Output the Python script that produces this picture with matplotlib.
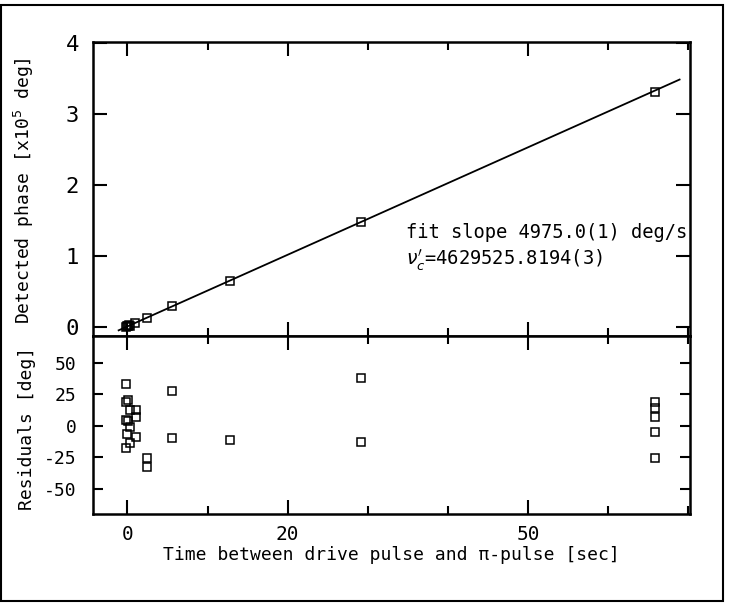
import matplotlib
matplotlib.use("Agg")
import matplotlib.pyplot as plt
from matplotlib.patches import Rectangle

# ---- data ----
phase_x = [-0.2, 0.0, 0.1, 0.3, 0.2, 1.0, 2.4, 5.6, 12.8, 29.1, 65.8]
phase_y = [0.0, 0.005, 0.01, 0.015, 0.02, 0.05, 0.13, 0.29, 0.65, 1.48, 3.32]   # x1e5 deg

fit_x = [-1.1, 68.9]
fit_y = [-0.05, 3.49]

res_x = [-0.2, 0.1, -0.2, 0.3, 1.1, 1.1, -0.2, 0.1, 0.3, 0.0, 1.1, 0.3, -0.2,
         2.4, 2.4, 5.6, 5.6, 12.8, 29.1, 29.1, 65.8, 65.8, 65.8, 65.8, 65.8]
res_y = [33, 20.5, 18.4, 12.6, 12, 6.8, 4.7, 3.4, -1, -6.3, -9, -13.7, -17.6,
         -25.5, -32.9, 27.4, -10, -11.6, 37.4, -13.2, 18.4, 14, 6.8, -5.3, -25.5]

x_major = [0, 20, 50]
x_minor = [10, 30, 40, 60, 70]
top_yticks = [0, 1, 2, 3, 4]
bot_yticks = [-50, -25, 0, 25, 50]

xlabel = "Time between drive pulse and \u03c0-pulse [sec]"
ylabel_top = "Detected phase [x10$^5$ deg]"
ylabel_bot = "Residuals [deg]"
note1 = "fit slope 4975.0(1) deg/s"
note2 = "$\\nu_c'$=4629525.8194(3)"

FONT = "DejaVu Sans Mono"
plt.rcParams['font.family'] = [FONT]
plt.rcParams['mathtext.fontset'] = 'dejavusans'

fig = plt.figure(figsize=(7.32, 6.09), dpi=100)
L, R = 93/732, 690/732
ax1 = fig.add_axes([L, 1-336/609, R-L, (336-42)/609])
ax2 = fig.add_axes([L, 1-514/609, R-L, (514-336)/609], sharex=ax1)

mk = dict(marker='s', ms=6, mfc='none', mec='black', mew=1.1, ls='none')

ax1.plot(fit_x, fit_y, color='black', lw=1.3)
ax1.plot(phase_x, phase_y, **mk)
ax2.plot(res_x, res_y, **mk)

ax1.set_xlim(-4.3, 70.2)
ax1.set_ylim(-0.13, 4.02)
ax2.set_ylim(-70, 71)

for ax in (ax1, ax2):
    for s in ax.spines.values():
        s.set_linewidth(1.8)
    ax.set_xticks(x_major)
    ax.set_xticks(x_minor, minor=True)
    ax.tick_params(which='both', direction='in', top=True, right=True,
                   width=1.5, labelsize=14, colors='black')
    ax.tick_params(which='major', length=10)
    ax.tick_params(which='minor', length=6)

ax1.set_yticks(top_yticks)
ax1.set_yticklabels([str(v) for v in top_yticks])
ax1.tick_params(axis='y', which='major', length=10, labelsize=16, pad=10)
ax1.tick_params(axis='x', labelbottom=False)

ax2.set_yticks(bot_yticks)
ax2.set_yticklabels([str(v) for v in bot_yticks])
ax2.tick_params(axis='y', which='major', length=7, labelsize=13, pad=12)
ax2.set_xticklabels([str(v) for v in x_major])
ax2.tick_params(axis='x', pad=8)

ax2.set_xlabel(xlabel, fontsize=13, labelpad=1)
ax1.set_ylabel(ylabel_top, fontsize=13)
ax2.set_ylabel(ylabel_bot, fontsize=13)
ax1.yaxis.set_label_coords((36-93)/597, (336-191)/294)
ax2.yaxis.set_label_coords((36-93)/597, (514-428)/178)

ax1.text(406/732, 1-238/609, note1, transform=fig.transFigure,
         fontsize=13.5, ha='left', va='baseline')
ax1.text(406/732, 1-265/609, note2, transform=fig.transFigure,
         fontsize=13.5, ha='left', va='baseline')

fig.patches.append(Rectangle((0.002, 1-601/609), 723/732 - 0.002, (601-5)/609,
                             transform=fig.transFigure, fill=False,
                             edgecolor='black', lw=1.5))

fig.savefig("out.png", dpi=100)
